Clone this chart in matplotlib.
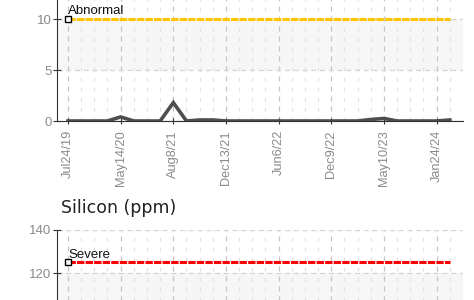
import matplotlib
matplotlib.use("Agg")
import matplotlib.pyplot as plt

# ---- data ----
values = [0, 0, 0, 0, 0.4, 0, 0, 0, 1.8, 0,
          0.1, 0.1, 0, 0, 0, 0, 0, 0, 0, 0,
          0, 0, 0, 0.15, 0.25, 0, 0, 0, 0, 0.1]
tick_labels = ["Jul24/19", "May14/20", "Aug8/21", "Dec13/21",
               "Jun6/22", "Dec9/22", "May10/23", "Jan24/24"]
tick_step = 4
abnormal_limit = 10
severe_limit = 125
top_yticks = [0, 5, 10]
bottom_yticks = [120, 140]
title_bottom = "Silicon (ppm)"

narrow = "Liberation Sans"

n = len(values)
idx = list(range(n))
tick_pos = idx[::tick_step][:len(tick_labels)]

fig = plt.figure(figsize=(4.74, 3.0), dpi=100)
L, R = 57 / 474, 463 / 474
ax1 = fig.add_axes([L, (300 - 121) / 300, R - L, 12.5 * 10.2 / 300])
ax2 = fig.add_axes([L, (300 - 316) / 300, R - L, 86 / 300])

xlim = (-0.835, 30.0)


def style(ax, ylim, yticks, band, grid_y):
    ax.set_xlim(*xlim)
    ax.set_ylim(*ylim)
    ax.axhspan(band[0], band[1], color="#f6f6f6", zorder=0, lw=0)
    for i in idx:
        major = i in tick_pos
        ax.axvline(i, color="#c4c4c4" if major else "#e2e2e2",
                   ls=(0, (4, 4)) if major else (0, (3, 5)), lw=0.9, zorder=1)
    for y in grid_y:
        ax.axhline(y, color="#d4d4d4", ls=(0, (4, 3)), lw=0.9, zorder=1)
    for s in ["top", "right"]:
        ax.spines[s].set_visible(False)
    ax.spines["left"].set_color("#333333")
    ax.spines["bottom"].set_color("#333333")
    ax.set_yticks(yticks)
    ax.tick_params(axis="y", direction="inout", length=6, color="#333333",
                   labelcolor="#8a8a8a", labelsize=9.5, pad=1)
    for t in ax.get_yticklabels():
        t.set_fontfamily(narrow)
    ax.set_xticks(tick_pos)
    ax.set_xticklabels(tick_labels, rotation=90, fontsize=9.2,
                       color="#8a8a8a", fontfamily=narrow)
    ax.tick_params(axis="x", direction="inout", length=5, color="#333333", pad=4)


style(ax1, (0, 12.5), top_yticks, (5, 10), [5, 10])
style(ax2, (100, 140), bottom_yticks, (100, 120), [120, 140])

ax1.plot(idx, values, color="#4e4e4e", lw=2.6, zorder=4, solid_joinstyle="miter")
ax1.plot([xlim[0] + 0.9, xlim[1]], [0, 0], color="#333333", lw=0.8, zorder=5)

ax1.plot(idx, [abnormal_limit] * n, color="#ffc600", lw=2.2,
         ls=(0, (2.4, 0.4)), zorder=3)
ax1.plot([0], [abnormal_limit], marker="s", ms=4.5, mfc="white",
         mec="black", mew=1, zorder=6)
ax1.text(0, abnormal_limit + 0.15, "Abnormal", fontsize=9.5, fontfamily=narrow,
         color="#111111", ha="left", va="bottom", zorder=6)

ax2.plot(idx, [severe_limit] * n, color="#ff0000", lw=2.2,
         ls=(0, (2.4, 0.4)), zorder=3)
ax2.plot([0], [severe_limit], marker="s", ms=4.5, mfc="white",
         mec="black", mew=1, zorder=6)
ax2.text(0, severe_limit + 0.6, "Severe", fontsize=9.5, fontfamily=narrow,
         color="#111111", ha="left", va="bottom", zorder=6)
ax2.set_xticklabels([])
ax2.tick_params(axis="x", length=0)

fig.text(61 / 474, (300 - 208) / 300, title_bottom, fontsize=12.5,
         color="#222222", ha="left", va="center", fontfamily="DejaVu Sans")

fig.savefig("out.png", dpi=100)
